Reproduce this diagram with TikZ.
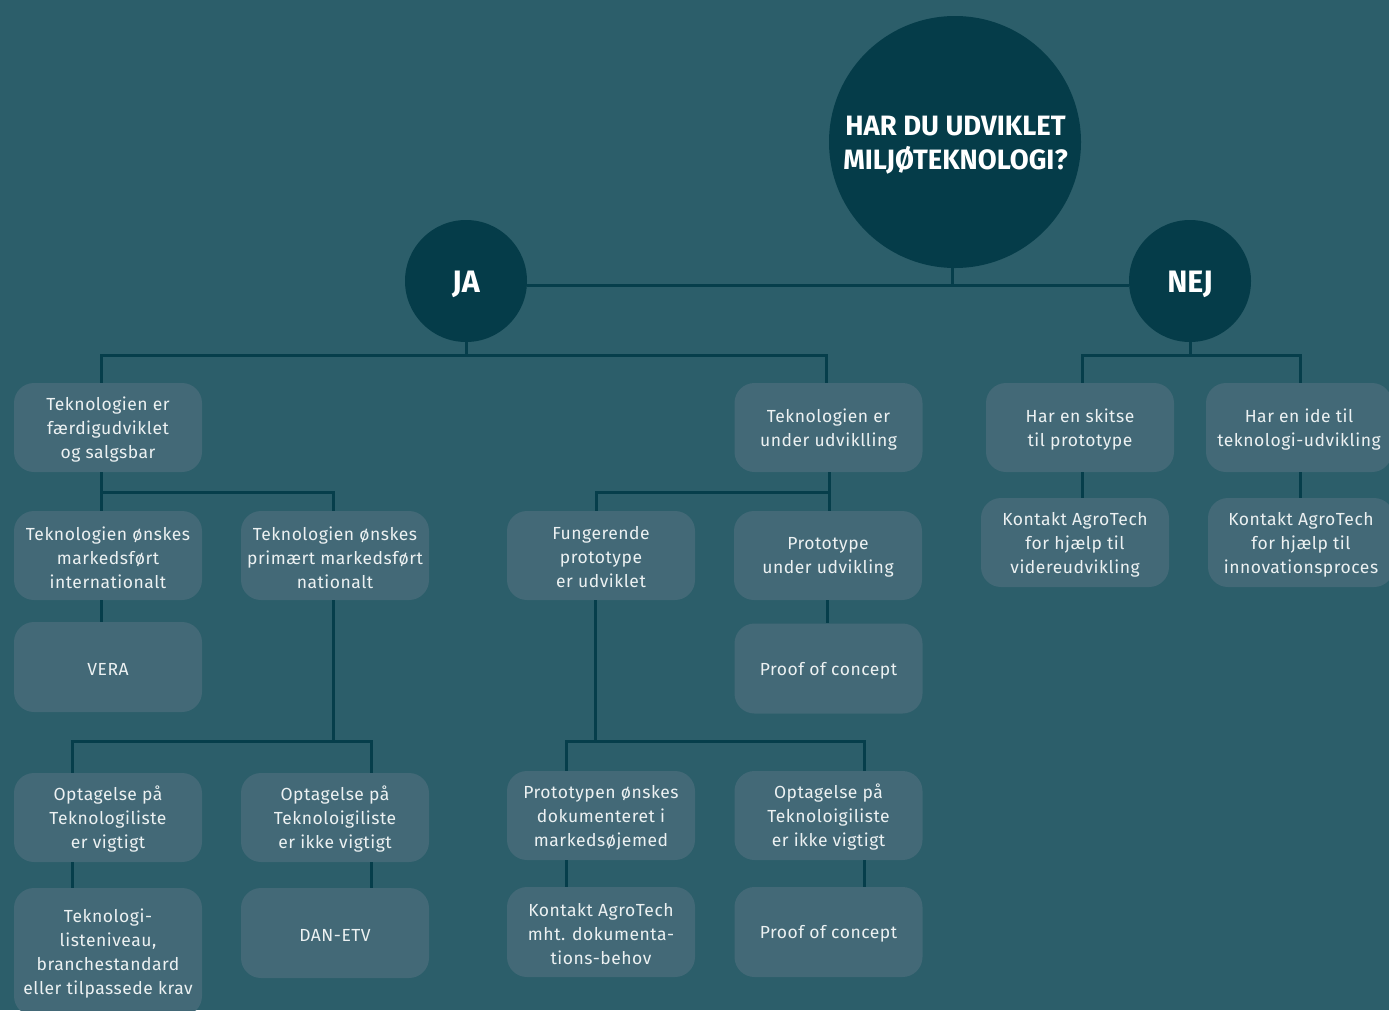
\documentclass[tikz,border=0pt]{standalone}
\usepackage{fontspec}
\setmainfont[LetterSpace=3]{Fira Sans}
\newfontfamily\titlefont[FakeStretch=0.98]{Fira Sans}
\definecolor{bg}{HTML}{2C5E6A}
\definecolor{boxc}{HTML}{436977}
\definecolor{circ}{HTML}{053C49}
\definecolor{linec}{HTML}{063E4B}
\definecolor{txt}{HTML}{ECF1F2}
\tikzset{
  box/.style={fill=boxc, rounded corners=20pt, minimum width=188pt, minimum height=89pt, inner sep=0pt},
  bt/.style={align=center, text=txt, inner sep=0pt, font=\fontsize{17.5}{24}\selectfont, yshift=-2pt},
  bigc/.style={circle, fill=circ, inner sep=0pt},
  ct/.style={align=center, text=white, inner sep=0pt, font=\titlefont\bfseries\fontsize{31}{30}\selectfont, yshift=-3pt},
  conn/.style={draw=linec, line width=3pt},
}
\begin{document}
\begin{tikzpicture}[x=1pt,y=-1pt]
\path[use as bounding box, fill=bg] (0,0) rectangle (1389,1010);
\clip (0,0) rectangle (1389,1010);

\coordinate (topj) at (952,285);
% circles
\node[bigc, minimum size=252pt, label={[ct, font=\titlefont\bfseries\fontsize{28}{34}\selectfont, xshift=0.5pt]center:{HAR DU UDVIKLET\\MILJØTEKNOLOGI?}}] (q) at (955,142) {};
\node[bigc, minimum size=122pt, label={[ct]center:JA}] (ja) at (466,281) {};
\node[bigc, minimum size=122pt, label={[ct]center:NEJ}] (nej) at (1190,281) {};

% boxes
\node[box, label={[bt]center:{Teknologien er\\færdigudviklet\\og salgsbar}}] (b1) at (108,427.5) {};
\node[box, label={[bt]center:{Teknologien er\\under udviklling}}] (b2) at (828.5,427.5) {};
\node[box, label={[bt]center:{Har en skitse\\til prototype}}] (n1) at (1080,427.5) {};
\node[box, minimum width=186pt, label={[bt]center:{Har en ide til\\teknologi-udvikling}}] (n2) at (1299,427.5) {};

\node[box, label={[bt]center:{Teknologien ønskes\\markedsført\\internationalt}}] (r2a) at (108,555.5) {};
\node[box, label={[bt]center:{Teknologien ønskes\\primært markedsført\\nationalt}}] (r2b) at (335,555.5) {};
\node[box, label={[bt]center:{Fungerende\\prototype\\er udviklet}}] (r2c) at (601,555.5) {};
\node[box, label={[bt]center:{Prototype\\under udvikling}}] (r2d) at (828,555.5) {};
\node[box, label={[bt]center:{Kontakt AgroTech\\for hjælp til\\videreudvikling}}] (n3) at (1075,542.5) {};
\node[box, minimum width=186pt, label={[bt]center:{Kontakt AgroTech\\for hjælp til\\innovationsproces}}] (n4) at (1301,542.5) {};

\node[box, minimum height=90pt, label={[bt]center:VERA}] (vera) at (108,667) {};
\node[box, minimum height=90pt, label={[bt]center:{Proof of concept}}] (poc1) at (828.5,668.5) {};

\node[box, label={[bt]center:{Optagelse på\\Teknologiliste\\er vigtigt}}] (r4a) at (108,817.5) {};
\node[box, label={[bt]center:{Optagelse på\\Teknoloigiliste\\er ikke vigtigt}}] (r4b) at (335,817.5) {};
\node[box, label={[bt]center:{Prototypen ønskes\\dokumenteret i\\markedsøjemed}}] (r4c) at (601,815.5) {};
\node[box, label={[bt]center:{Optagelse på\\Teknoloigiliste\\er ikke vigtigt}}] (r4d) at (828.5,815.5) {};

\node[box, minimum height=128pt, label={[bt]center:{Teknologi-\\listeniveau,\\branchestandard\\eller tilpassede krav}}] (r5a) at (108,952) {};
\node[box, minimum height=90pt, label={[bt]center:{DAN-ETV}}] (r5b) at (335,933) {};
\node[box, minimum height=90pt, label={[bt]center:{Kontakt AgroTech\\mht. dokumenta-\\tions-behov}}] (r5c) at (601,932) {};
\node[box, minimum height=90pt, label={[bt]center:{Proof of concept}}] (r5d) at (828.5,932) {};

% top connectors
\draw[conn] ([xshift=-3pt]q.south) -- (topj);
\draw[conn] ([yshift=-4pt]ja.east) -- ([yshift=-4pt]nej.west);

% JA tree
\coordinate (jaj) at (466,355);
\draw[conn] (ja.south) -- (jaj);
\draw[conn] ([xshift=-7pt]b1.north) |- (jaj) -| ([xshift=-2.5pt]b2.north);

% NEJ tree
\coordinate (nej1) at (1190,355);
\draw[conn] (nej.south) -- (nej1);
\draw[conn] ([xshift=2pt]n1.north) |- (nej1) -| ([xshift=1pt]n2.north);
\draw[conn] ([xshift=2pt]n1.south) -- ([xshift=7pt]n3.north);
\draw[conn] ([xshift=1pt]n2.south) -- ([xshift=-1pt]n4.north);

% b1 subtree
\coordinate (b1j) at (101,492);
\draw[conn] ([xshift=-7pt]b1.south) -- ([xshift=-7pt]r2a.north);
\draw[conn] (b1j) -| ([xshift=-2pt]r2b.north);
\draw[conn] ([xshift=-7pt]r2a.south) -- ([xshift=-7pt]vera.north);

% b2 subtree
\coordinate (b2j) at (829,492);
\draw[conn] ([xshift=0.5pt]b2.south) -- ([xshift=1pt]r2d.north);
\draw[conn] (b2j) -| ([xshift=-5pt]r2c.north);
\draw[conn] ([xshift=-1pt]r2d.south) -- ([xshift=-1.5pt]poc1.north);

% r2b subtree
\coordinate (r2bj) at (333,741);
\draw[conn] ([xshift=-2pt]r2b.south) -- (r2bj);
\draw[conn] ([xshift=-36pt]r4a.north) |- (r2bj) -| ([xshift=36pt]r4b.north);
\draw[conn] ([xshift=-36pt]r4a.south) -- ([xshift=-36pt]r5a.north);
\draw[conn] ([xshift=36pt]r4b.south) -- ([xshift=36pt]r5b.north);

% r2c subtree
\coordinate (r2cj) at (595,741);
\draw[conn] ([xshift=-6pt]r2c.south) -- (r2cj);
\draw[conn] ([xshift=-35pt]r4c.north) |- (r2cj) -| ([xshift=35.5pt]r4d.north);
\draw[conn] ([xshift=-35pt]r4c.south) -- ([xshift=-35pt]r5c.north);
\draw[conn] ([xshift=35.5pt]r4d.south) -- ([xshift=35.5pt]r5d.north);
\end{tikzpicture}
\end{document}
